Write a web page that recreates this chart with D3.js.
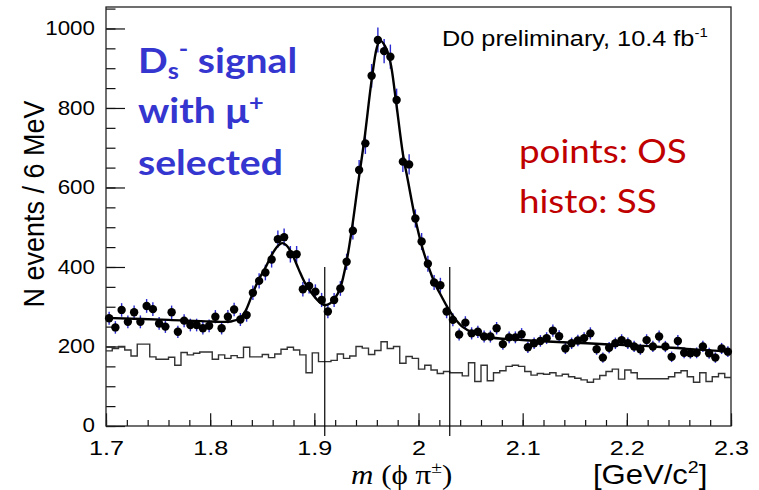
<!DOCTYPE html>
<html>
<head>
<meta charset="utf-8">
<script src="https://cdn.jsdelivr.net/npm/d3@7/dist/d3.min.js"></script>
<style>
body { margin: 0; background: #fff; }
svg { display: block; }
</style>
</head>
<body>
<svg id="chart" width="759" height="490"></svg>
<script>
// binning of the mass histogram: 100 bins of 6 MeV from 1.7 GeV
var massLow = 1.7, binWidth = 0.006;

// opposite-sign (points)
var osCounts = [271, 248, 292, 262, 286, 262, 302, 294, 258, 250,
	286, 237, 265, 254, 254, 246, 252, 275, 246, 275,
	293, 268, 279, 335, 365, 386, 419, 470, 475, 432,
	432, 344, 352, 338, 317, 288, 317, 346, 413, 491,
	644, 711, 881, 971, 943, 929, 820, 665, 658, 522,
	464, 408, 361, 354, 288, 267, 230, 260, 233, 237,
	225, 225, 246, 206, 223, 223, 231, 198, 208, 214,
	221, 240, 226, 195, 208, 215, 221, 233, 193, 172,
	197, 208, 216, 208, 200, 193, 216, 200, 225, 200,
	174, 214, 184, 183, 184, 200, 183, 172, 195, 187];

// same-sign (histogram)
var ssCounts = [189, 195, 200, 191, 176, 206, 206, 174, 168, 168,
	173, 153, 185, 179, 183, 186, 186, 168, 179, 170,
	177, 172, 198, 174, 174, 180, 172, 181, 193, 198,
	191, 179, 134, 184, 162, 162, 165, 181, 170, 176,
	200, 196, 180, 190, 212, 195, 200, 158, 175, 170,
	143, 153, 141, 132, 137, 134, 134, 126, 159, 112,
	153, 114, 134, 139, 150, 153, 150, 137, 128, 132,
	130, 134, 126, 130, 124, 120, 116, 110, 118, 127,
	137, 143, 118, 141, 134, 119, 119, 119, 119, 119,
	124, 134, 139, 124, 110, 134, 112, 124, 132, 122];

// fit curve
var fitMass = [1.700, 1.760, 1.800, 1.820, 1.829, 1.834, 1.840, 1.846, 1.853, 1.859,
	1.865, 1.869, 1.873, 1.878, 1.885, 1.891, 1.8975, 1.904, 1.910, 1.915,
	1.920, 1.925, 1.931, 1.936, 1.942, 1.948, 1.955, 1.960, 1.963, 1.968,
	1.973, 1.978, 1.985, 1.990, 1.9966, 2.003, 2.0094, 2.0158, 2.0223, 2.0286,
	2.035, 2.043, 2.0526, 2.0655, 2.097, 2.129, 2.1615, 2.193, 2.225, 2.2575, 2.300];
var fitValue = [272, 267, 263, 263, 272, 290, 328, 365, 398, 430,
	453, 460, 455, 436, 394, 360, 334, 314, 304, 308,
	322, 348, 415, 495, 610, 720, 870, 952, 970, 955,
	915, 825, 685, 615, 525, 455, 402, 358, 325, 295,
	270, 248, 234, 224, 217, 212, 208, 204, 200, 194, 187];

// mass window cuts
var cutMass = [1.91, 2.03];
var cutTop = 400;

var xTicks = [1.7, 1.8, 1.9, 2.0, 2.1, 2.2, 2.3];
var xTickLabels = ["1.7", "1.8", "1.9", "2", "2.1", "2.2", "2.3"];
var yTicks = [0, 200, 400, 600, 800, 1000];

var svg = d3.select("#chart");
var x = d3.scaleLinear().domain([1.7, 2.3]).range([106, 731]);
var y = d3.scaleLinear().domain([0, 1054]).range([426, 7]);
var sx = 1.15; // the picture is stretched sideways
var sans = "'Liberation Sans', Arial, sans-serif";

function stretchedText(g, px, py, size, family) {
	return g.append("text")
		.attr("transform", "translate(" + px + "," + py + ") scale(" + sx + ",1)")
		.style("font-family", family)
		.style("font-size", size + "px");
}

// axes, ticks pointing inside
var gx = svg.append("g").attr("transform", "translate(0,426)");
gx.call(d3.axisBottom(x).tickValues(d3.range(1.7, 2.3001, 0.02)).tickSize(-6).tickFormat(""));
gx.append("g").call(d3.axisBottom(x).tickValues(xTicks).tickSize(-12.7).tickPadding(14)
	.tickFormat(function(d, i) { return xTickLabels[i]; }));

var gy = svg.append("g").attr("transform", "translate(106,0)");
gy.call(d3.axisLeft(y).tickValues(d3.range(0, 1051, 50)).tickSize(-9.5).tickFormat(""));
gy.append("g").call(d3.axisLeft(y).tickValues(yTicks).tickSize(-19).tickPadding(11).tickFormat(d3.format("d")));

svg.selectAll(".domain").remove();
svg.selectAll(".tick line").attr("stroke", "#111").attr("stroke-width", 1.2);
gx.selectAll("text")
	.attr("transform", "scale(1.2,1)")
	.style("font-family", sans)
	.style("font-size", "21px").attr("fill", "#000");
gy.selectAll("text")
	.attr("x", -11 / 1.12)
	.attr("transform", "scale(1.12,1)")
	.style("font-family", sans)
	.style("font-size", "20px").attr("fill", "#000");
gy.selectAll(".tick text").filter(function(d) { return d === 0; }).attr("dy", "0.28em");

// frame
svg.append("rect")
	.attr("x", 106).attr("y", 7).attr("width", 625).attr("height", 419)
	.attr("fill", "none").attr("stroke", "#222").attr("stroke-width", 1.3);

// same-sign histogram
var steps = [];
ssCounts.forEach(function(v, i) {
	steps.push([massLow + i * binWidth, v]);
	steps.push([massLow + (i + 1) * binWidth, v]);
});
svg.append("path")
	.attr("d", d3.line().x(function(d) { return x(d[0]); }).y(function(d) { return y(d[1]); })(steps))
	.attr("fill", "none").attr("stroke", "#333").attr("stroke-width", 1.4);

// cut lines
svg.selectAll(".cut").data(cutMass).enter().append("line")
	.attr("class", "cut")
	.attr("x1", function(d) { return x(d); }).attr("x2", function(d) { return x(d); })
	.attr("y1", y(cutTop)).attr("y2", 436)
	.attr("stroke", "#000").attr("stroke-width", 1.2);

// opposite-sign points with poisson error bars
var pts = osCounts.map(function(v, i) { return { m: massLow + (i + 0.5) * binWidth, n: v }; });
svg.selectAll(".err").data(pts).enter().append("line")
	.attr("class", "err")
	.attr("x1", function(d) { return x(d.m); }).attr("x2", function(d) { return x(d.m); })
	.attr("y1", function(d) { return y(d.n + Math.sqrt(d.n)); })
	.attr("y2", function(d) { return y(d.n - Math.sqrt(d.n)); })
	.attr("stroke", "#2a2ad0").attr("stroke-width", 1.4);

// fit
var fit = fitMass.map(function(m, i) { return [m, fitValue[i]]; });
svg.append("path")
	.attr("d", d3.line().curve(d3.curveCatmullRom.alpha(0.5))
		.x(function(d) { return x(d[0]); }).y(function(d) { return y(d[1]); })(fit))
	.attr("fill", "none").attr("stroke", "#000").attr("stroke-width", 2.4);

svg.selectAll(".pt").data(pts).enter().append("circle")
	.attr("class", "pt")
	.attr("cx", function(d) { return x(d.m); })
	.attr("cy", function(d) { return y(d.n); })
	.attr("r", 4.2).attr("fill", "#000");

// labels
var t = stretchedText(svg, 442, 46, 22, sans).attr("fill", "#000").text("D0 preliminary, 10.4 fb");
t.append("tspan").attr("dy", -9).style("font-size", "13px").text("-1");

svg.append("text")
	.attr("transform", "translate(44,204) rotate(-90) scale(1,1.12)")
	.attr("text-anchor", "middle")
	.style("font-family", sans).style("font-size", "27px")
	.text("N events / 6 MeV");

var xt = stretchedText(svg, 351, 484, 27, "'Liberation Serif', 'Times New Roman', serif");
xt.append("tspan").style("font-style", "italic").text("m");
xt.append("tspan").text(" (\u03d5 \u03c0");
xt.append("tspan").attr("dy", -11).style("font-size", "17px").text("\u00b1");
xt.append("tspan").attr("dy", 11).text(")");

var unit = stretchedText(svg, 593, 484, 27, sans).text("[GeV/c");
unit.append("tspan").attr("dy", -11).style("font-size", "17px").text("2");
unit.append("tspan").attr("dy", 11).text("]");

var blue = "#3535d0", calibriLike = "Lato, 'Open Sans', sans-serif";
var l1 = stretchedText(svg, 138, 73, 34, calibriLike).attr("fill", blue).style("font-weight", 700);
l1.append("tspan").text("D");
l1.append("tspan").attr("dy", 6).style("font-size", "22px").text("s");
l1.append("tspan").attr("dy", -22).style("font-size", "22px").text("-");
l1.append("tspan").attr("dy", 16).text(" signal");
var l2 = stretchedText(svg, 138, 123, 34, calibriLike).attr("fill", blue).style("font-weight", 700);
l2.append("tspan").text("with \u03bc");
l2.append("tspan").attr("dy", -12).style("font-size", "22px").text("+");
stretchedText(svg, 138, 175, 34, calibriLike).attr("fill", blue).style("font-weight", 700).text("selected");

var red = "#c00000";
stretchedText(svg, 519, 163, 32, calibriLike).attr("fill", red).text("points: OS");
stretchedText(svg, 519, 213, 32, calibriLike).attr("fill", red).text("histo: SS");
</script>
</body>
</html>
